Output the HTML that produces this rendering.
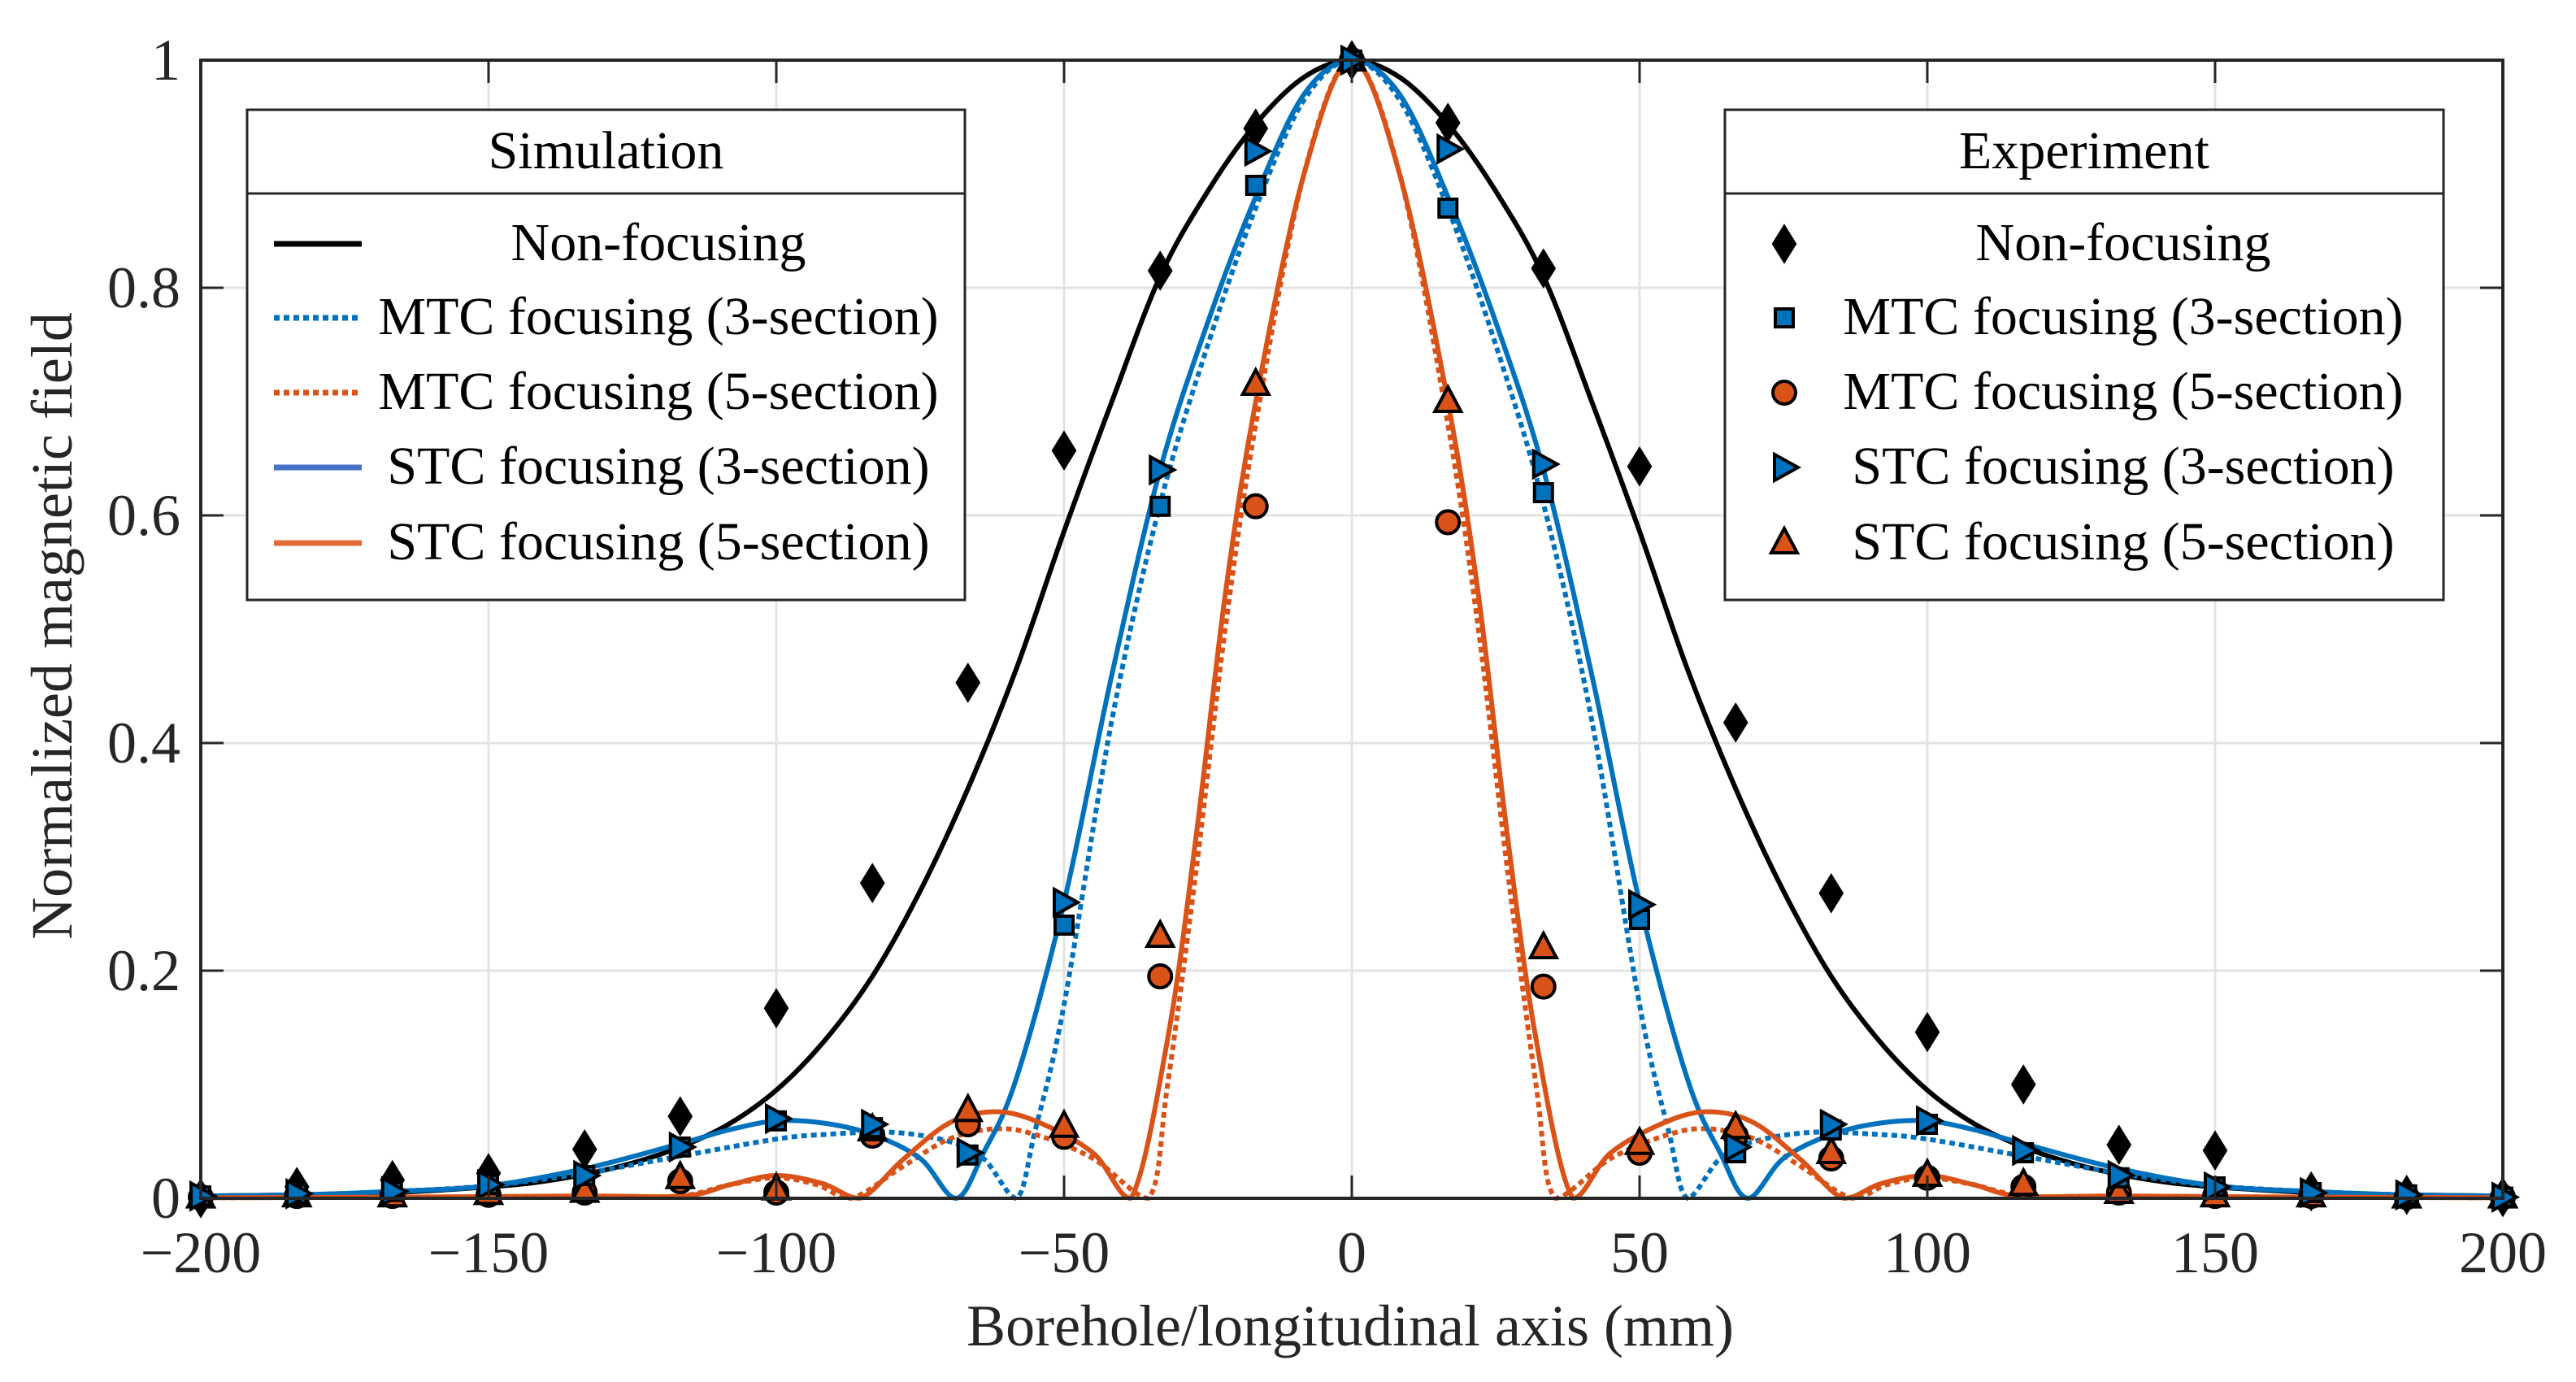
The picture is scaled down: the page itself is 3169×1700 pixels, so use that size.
<!DOCTYPE html>
<html><head><meta charset="utf-8"><style>
html,body{margin:0;padding:0;background:#fff;}
svg{display:block;font-family:"Liberation Serif","Times New Roman",serif;}
</style></head><body>
<svg id="chart" width="3169" height="1700" viewBox="0 0 3169 1700" xmlns="http://www.w3.org/2000/svg">
<rect x="0" y="0" width="3169" height="1700" fill="#fff"/>
<g id="grid"></g>
<g id="curves"></g>
<g id="markers"></g>
<g id="axes"></g>
<text x="1661" y="1655" font-size="72" text-anchor="middle" fill="#262626">Borehole/longitudinal axis (mm)</text>
<text transform="translate(88,770) rotate(-90)" font-size="72" text-anchor="middle" fill="#262626">Normalized magnetic field</text>
<g id="legends"></g>
</svg>
<script>
// ---- data ----
const xTicks = [-200,-150,-100,-50,0,50,100,150,200];
const xTickLabels = ["\u2212200","\u2212150","\u2212100","\u221250","0","50","100","150","200"];
const yTicks = [0,0.2,0.4,0.6,0.8,1];
const yTickLabels = ["0","0.2","0.4","0.6","0.8","1"];

// simulation curves (half profiles, x >= 0; curves are symmetric)
const nonX = [0,8.3,16.7,25,33.3,41.7,50,58.3,66.7,75,83.3,91.7,100,108.3,116.7,125,133.3,141.7,150,166.7,183.3,200];
const nonY = [1,.985,.944,.885,.81,.70,.586,.465,.36,.27,.195,.138,.095,.065,.045,.031,.021,.014,.01,.005,.003,.002];
const mtc3X = [0,8.3,16.7,25,33.3,41.7,50,55,58.3,64,70,80,91.7,100,116.7,133.3,150,166.7,183.3,200];
const mtc3Y = [1,.965,.87,.75,.61,.42,.17,.06,0,.035,.05,.058,.056,.052,.037,.022,.011,.006,.003,.002];
const stc3X = [0,8.3,16.7,25,33.3,41.7,50,58.3,64,68.8,75,83.3,91.7,100,108.3,116.7,133.3,150,166.7,183.3,200];
const stc3Y = [1,.97,.88,.77,.64,.46,.26,.105,.04,0,.035,.056,.066,.068,.06,.048,.026,.011,.006,.003,.002];
const mtc5X = [0,8.3,16.7,22,27,32,35.4,45,55,62,70,78,87,93,100,108,117,133.3,166,200];
const mtc5Y = [1,.9,.68,.5,.29,.1,0,.035,.056,.061,.052,.028,0,.012,.018,.012,.002,.002,.001,.0005];
const stc5X = [0,8.3,16.7,22,27,32,38.4,45,55,62.5,70,78,85.5,92,100,108,116,133.3,166,200];
const stc5Y = [1,.9,.70,.53,.32,.14,0,.04,.068,.076,.066,.034,0,.013,.02,.012,.002,.002,.001,.0005];

// experiment markers
const expX = [-200,-183.3,-166.7,-150,-133.3,-116.7,-100,-83.3,-66.7,-50,-33.3,-16.7,0,16.7,33.3,50,66.7,83.3,100,116.7,133.3,150,166.7,183.3,200];
const expNon = [0,.01,.016,.022,.043,.072,.167,.277,.453,.657,.815,.94,1,.945,.817,.643,.418,.268,.146,.1,.047,.042,.006,.003,.001];
const expMtc3 = [.002,.004,.006,.012,.02,.045,.068,.062,.038,.24,.608,.89,1,.87,.62,.245,.04,.06,.065,.04,.018,.01,.005,.003,.001];
const expStc3 = [.002,.004,.006,.012,.02,.045,.07,.065,.04,.26,.64,.92,1,.922,.645,.258,.045,.065,.068,.042,.02,.01,.005,.003,.001];
const expMtc5 = [.001,.002,.002,.003,.005,.015,.005,.055,.065,.054,.195,.608,1,.594,.186,.04,.055,.035,.018,.01,.005,.002,.002,.001,.001];
const expStc5 = [.001,.002,.002,.004,.006,.018,.008,.06,.077,.063,.23,.715,1,.70,.22,.048,.062,.04,.02,.012,.005,.002,.002,.001,.001];

// ---- layout ----
const L=247, R=3079, T=74, B=1474;
const sx = v => L + (v+200)/400*(R-L);
const sy = v => B - v*(B-T);
const NS="http://www.w3.org/2000/svg";
function mk(tag, attrs, parent){const e=document.createElementNS(NS,tag);for(const k in attrs)e.setAttribute(k,attrs[k]);parent.appendChild(e);return e;}
const BLUE="#0072BD", ORANGE="#D95319";

const grid=document.getElementById('grid'), axes=document.getElementById('axes');
xTicks.forEach((t,i)=>{
  const g=mk('line',{x1:sx(t),x2:sx(t),y1:T,y2:B,stroke:'#e3e3e3','stroke-width':3},grid);
  
  
  mk('line',{x1:sx(t),x2:sx(t),y1:B,y2:B-28,stroke:'#262626','stroke-width':3},axes);
  mk('line',{x1:sx(t),x2:sx(t),y1:T,y2:T+28,stroke:'#262626','stroke-width':3},axes);
  const tx=mk('text',{x:sx(t),y:1565,'font-size':72,'text-anchor':'middle',fill:'#262626'},axes);
  tx.textContent=xTickLabels[i];
  
  
});
yTicks.forEach((t,i)=>{
  const g=mk('line',{x1:L,x2:R,y1:sy(t),y2:sy(t),stroke:'#e3e3e3','stroke-width':3},grid);
  
  
  mk('line',{x1:L,x2:L+28,y1:sy(t),y2:sy(t),stroke:'#262626','stroke-width':3},axes);
  mk('line',{x1:R,x2:R-28,y1:sy(t),y2:sy(t),stroke:'#262626','stroke-width':3},axes);
  const tx=mk('text',{x:222,y:sy(t)+24,'font-size':72,'text-anchor':'end',fill:'#262626'},axes);
  tx.textContent=yTickLabels[i];
  
  
});
const box=mk('rect',{x:L,y:T,width:R-L,height:B-T,fill:'none',stroke:'#262626','stroke-width':4},axes);



function curvePath(hx,hy){
  const pts=[];
  for(let i=hx.length-1;i>0;i--)pts.push([sx(-hx[i]),sy(hy[i])]);
  for(let i=0;i<hx.length;i++)pts.push([sx(hx[i]),sy(hy[i])]);
  let d='M'+pts[0][0].toFixed(1)+','+pts[0][1].toFixed(1);
  for(let i=0;i<pts.length-1;i++){
    const p0=pts[Math.max(0,i-1)],p1=pts[i],p2=pts[i+1],p3=pts[Math.min(pts.length-1,i+2)];
    let c1y=p1[1]+(p2[1]-p0[1])/6, c2y=p2[1]-(p3[1]-p1[1])/6;
    c1y=Math.min(c1y,B); c2y=Math.min(c2y,B);
    d+=' C'+(p1[0]+(p2[0]-p0[0])/6).toFixed(1)+','+c1y.toFixed(1)+' '+(p2[0]-(p3[0]-p1[0])/6).toFixed(1)+','+c2y.toFixed(1)+' '+p2[0].toFixed(1)+','+p2[1].toFixed(1);
  }
  return d;
}
const curves=document.getElementById('curves');
function drawCurve(hx,hy,color,dash,name){
  const p=mk('path',{d:curvePath(hx,hy),fill:'none',stroke:color,'stroke-width':6,'stroke-linejoin':'round'},curves);
  if(dash)p.setAttribute('stroke-dasharray',dash);
  
  
}
drawCurve(nonX,nonY,'#000',null,'non-focusing-curve');
drawCurve(mtc3X,mtc3Y,BLUE,'7 5','mtc-3-section-curve');
drawCurve(mtc5X,mtc5Y,ORANGE,'7 5','mtc-5-section-curve');
drawCurve(stc3X,stc3Y,BLUE,null,'stc-3-section-curve');
drawCurve(stc5X,stc5Y,ORANGE,null,'stc-5-section-curve');

function marker(type,cx,cy,parent){
  let e;
  const st={stroke:'#000','stroke-width':4};
  if(type==='diamond'){e=mk('polygon',Object.assign({points:`${cx},${cy-21} ${cx+13},${cy} ${cx},${cy+21} ${cx-13},${cy}`,fill:'#000'},st),parent);}
  else if(type==='square'){e=mk('rect',Object.assign({x:cx-11,y:cy-11,width:22,height:22,fill:BLUE},st),parent);}
  else if(type==='circle'){e=mk('circle',Object.assign({cx:cx,cy:cy,r:14,fill:ORANGE},st),parent);}
  else if(type==='right'){e=mk('polygon',Object.assign({points:`${cx-12},${cy-16} ${cx+17},${cy} ${cx-12},${cy+16}`,fill:BLUE},st),parent);}
  else {e=mk('polygon',Object.assign({points:`${cx},${cy-18} ${cx+16},${cy+12} ${cx-16},${cy+12}`,fill:ORANGE},st),parent);}
  return e;
}
const markers=document.getElementById('markers');
function drawMarkers(ys,type,name){
  ys.forEach((v,i)=>{
    const m=marker(type,sx(expX[i]),sy(v),markers);
    
    
  });
}
drawMarkers(expNon,'diamond','non-focusing-point');
drawMarkers(expMtc5,'circle','mtc-5-section-point');
drawMarkers(expStc5,'up','stc-5-section-point');
drawMarkers(expMtc3,'square','mtc-3-section-point');
drawMarkers(expStc3,'right','stc-3-section-point');

// legends
const legends=document.getElementById('legends');
const names=["Non-focusing","MTC focusing (3-section)","MTC focusing (5-section)","STC focusing (3-section)","STC focusing (5-section)"];
const baselines=[320,411,503,595,688];
function legendBox(x0,x1,title,textCx,sym,name){
  const g=mk('g',{},legends);
  
  
  mk('rect',{x:x0,y:135,width:x1-x0,height:603,fill:'#fff',stroke:'#262626','stroke-width':3},g);
  mk('line',{x1:x0,x2:x1,y1:238,y2:238,stroke:'#262626','stroke-width':3},g);
  const t=mk('text',{x:(x0+x1)/2,y:207,'font-size':66,'text-anchor':'middle',fill:'#000'},g);
  t.textContent=title;
  
  
  names.forEach((n,i)=>{
    sym(g,i,baselines[i]-20);
    const tx=mk('text',{x:textCx,y:baselines[i],'font-size':66,'text-anchor':'middle',fill:'#000'},g);
    tx.textContent=n;
    
    
  });
}
const simStyles=[['#000',null],[BLUE,'7 5'],[ORANGE,'7 5'],['#4472C4',null],['#E26A35',null]];
legendBox(304,1187,'Simulation',810,(g,i,y)=>{
  const l=mk('line',{x1:337,x2:445,y1:y,y2:y,stroke:simStyles[i][0],'stroke-width':7},g);
  if(simStyles[i][1])l.setAttribute('stroke-dasharray',simStyles[i][1]);
},'simulation-legend');
const expTypes=['diamond','square','circle','right','up'];
legendBox(2122,3006,'Experiment',2612,(g,i,y)=>{marker(expTypes[i],2195,y,g);},'experiment-legend');
</script>
</body></html>
